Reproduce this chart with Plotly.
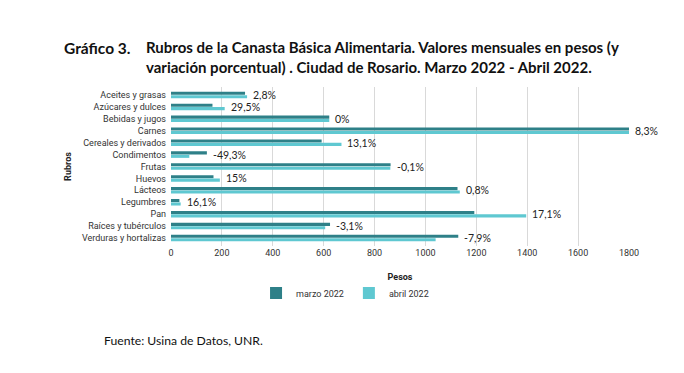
import plotly.graph_objects as go

rubros = ["Aceites y grasas", "Azúcares y dulces", "Bebidas y jugos", "Carnes",
          "Cereales y derivados", "Condimentos", "Frutas", "Huevos", "Lácteos",
          "Legumbres", "Pan", "Raíces y tubérculos", "Verduras y hortalizas"]
marzo_2022 = [291, 163, 622, 1830, 592, 141, 863, 167, 1126, 33, 1192, 625, 1129]
abril_2022 = [299, 211, 622, 1982, 670, 72, 862, 192, 1135, 38, 1396, 606, 1040]
variacion = ["2,8%", "29,5%", "0%", "8,3%", "13,1%", "-49,3%", "-0,1%", "15%",
             "0,8%", "16,1%", "17,1%", "-3,1%", "-7,9%"]
x_max = 1800
x_ticks = [0, 200, 400, 600, 800, 1000, 1200, 1400, 1600, 1800]

c_marzo = "#2e8088"
c_abril = "#5fc8d1"

fig = go.Figure()
fig.add_trace(go.Bar(y=rubros, x=marzo_2022, orientation="h", name="marzo 2022",
                     marker=dict(color=c_marzo, line=dict(width=0))))
fig.add_trace(go.Bar(y=rubros, x=abril_2022, orientation="h", name="abril 2022",
                     marker=dict(color=c_abril, line=dict(width=0))))

for r, m, a, v in zip(rubros, marzo_2022, abril_2022, variacion):
    fig.add_annotation(x=min(max(m, a), x_max), y=r, text=v, showarrow=False,
                       xanchor="left", yanchor="middle", xshift=4, yshift=0,
                       font=dict(family="Lato", size=10.5, color="#222222"))

fig.add_annotation(xref="paper", yref="paper", x=-0.238, y=1.245, text="<b>Gráfico 3.</b>",
                   showarrow=False, xanchor="left", yanchor="middle",
                   font=dict(family="Lato", size=15.5, color="#111111"))
fig.add_annotation(xref="paper", yref="paper", x=-0.059, y=1.189,
                   text="<b>Rubros de la Canasta Básica Alimentaria. Valores mensuales en pesos (y</b><br><b>variación porcentual) . Ciudad de Rosario. Marzo 2022 - Abril 2022.</b>",
                   showarrow=False, xanchor="left", yanchor="middle", align="left",
                   font=dict(family="Lato", size=15, color="#111111"))
fig.add_annotation(xref="paper", yref="paper", x=-0.1505, y=-0.597,
                   text="Fuente: Usina de Datos, UNR.", showarrow=False,
                   xanchor="left", yanchor="middle",
                   font=dict(family="Lato", size=12.2, color="#111111"))

fig.update_layout(
    width=684, height=373,
    margin=dict(l=163, r=63, t=79, b=135),
    paper_bgcolor="white", plot_bgcolor="white",
    barmode="group", bargap=0.42, bargroupgap=0.1,
    font=dict(family="Roboto", size=9, color="#333333"),
    showlegend=True,
    legend=dict(orientation="h", x=0.38, xanchor="center", y=-0.296, yanchor="middle",
                font=dict(family="Roboto", size=9, color="#333333"),
                itemwidth=30, traceorder="normal"),
    xaxis=dict(range=[0, x_max], tickvals=x_ticks, showgrid=True, gridcolor="#d9d9d9",
               gridwidth=1, zeroline=False, showline=False, ticks="",
               tickfont=dict(family="Roboto", size=9, color="#333333"),
               title=dict(text="<b>Pesos</b>", font=dict(family="Roboto", size=9, color="#222222"),
                          standoff=16)),
    yaxis=dict(autorange="reversed", showgrid=False, zeroline=False, showline=False,
               ticks="", ticklabelstandoff=4,
               tickfont=dict(family="Roboto", size=9, color="#333333"),
               title=dict(text="<b>Rubros</b>", font=dict(family="Roboto", size=9, color="#222222"),
                          standoff=8)),
)

fig.write_html("out.html")
